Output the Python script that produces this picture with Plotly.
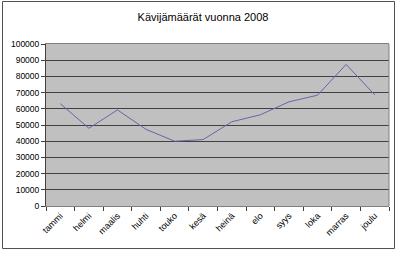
import plotly.graph_objects as go

months = ["tammi", "helmi", "maalis", "huhti", "touko", "kesä", "heinä",
          "elo", "syys", "loka", "marras", "joulu"]
visitors = [63200, 48000, 59300, 47300, 40000, 41000, 52000,
            56300, 64300, 68400, 87400, 68600]
y_ticks = list(range(0, 100001, 10000))
title_text = "Kävijämäärät vuonna 2008"

W, H = 400, 253
L, R, T, B = 46, 11, 44, 47
pw, ph = W - L - R, H - T - B

def px_x(x):
    return (x - L) / pw

def px_y(y):
    return (H - B - y) / ph

fig = go.Figure()
fig.add_trace(go.Scatter(
    x=months, y=visitors, mode="lines",
    line=dict(color="#6666a6", width=1),
    hoverinfo="skip", showlegend=False,
))

fig.update_layout(
    width=W, height=H,
    margin=dict(l=L, r=R, t=T, b=B),
    paper_bgcolor="white",
    plot_bgcolor="#c0c0c0",
    font=dict(family="Liberation Sans, Arial, sans-serif", size=8, color="black"),
    title=dict(text=title_text, x=203 / W, xref="container", xanchor="center",
               y=1 - 17 / H, yanchor="middle", yref="container",
               font=dict(size=11, color="black")),
    xaxis=dict(
        type="category", tickangle=-45, ticks="outside", ticklen=4,
        tickson="boundaries", tickcolor="#404040", tickwidth=1,
        tickfont=dict(size=9),
        showgrid=False, showline=True, linecolor="#808080", linewidth=1,
        mirror=True, range=[-0.5, 11.5], fixedrange=True,
    ),
    yaxis=dict(
        range=[0, 100000], tickvals=y_ticks, ticktext=[str(v) for v in y_ticks],
        ticks="outside", ticklen=4, tickcolor="#404040",
        tickfont=dict(size=8.5),
        showgrid=True, gridcolor="#404040", gridwidth=1,
        showline=True, linecolor="#404040", linewidth=1, mirror=False,
        zeroline=False, fixedrange=True,
    ),
    shapes=[
        dict(type="rect", xref="paper", yref="paper",
             x0=px_x(2.5), x1=px_x(394.5), y0=px_y(248.5), y1=px_y(1.5),
             line=dict(color="#505050", width=1), fillcolor="rgba(0,0,0,0)",
             layer="below"),
        dict(type="line", xref="paper", yref="paper",
             x0=1, x1=1, y0=0, y1=1, line=dict(color="#808080", width=1)),
    ],
)

fig.write_html("out.html")
